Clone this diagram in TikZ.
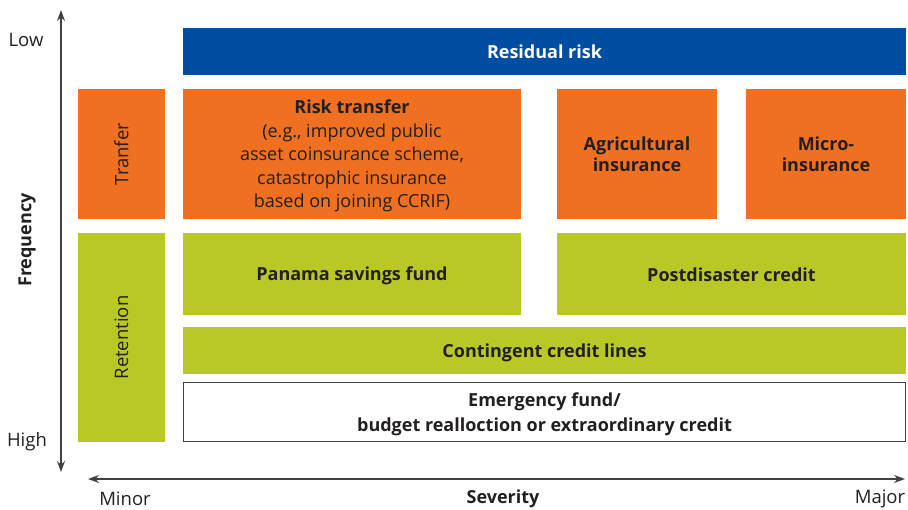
\documentclass[tikz,border=0pt]{standalone}
\usepackage{fontspec}
\setmainfont{Open Sans}
\usetikzlibrary{arrows.meta}
\definecolor{ablue}{HTML}{004EA2}
\definecolor{aorange}{HTML}{F07022}
\definecolor{agreen}{HTML}{BAC826}
\definecolor{atext}{HTML}{231F20}
\tikzset{
  box/.style={inner sep=0pt, align=center, text=atext, font=\fontsize{18}{21}\selectfont\bfseries},
  lab/.style={inner sep=0pt, text=atext, font=\fontsize{18.5}{20}\selectfont},
  axis/.style={draw=atext!85, line width=1.3pt}
}
\begin{document}
\begin{tikzpicture}[x=1pt,y=-1pt]
\useasboundingbox (0,0) rectangle (908,510);
% boxes
\fill[ablue] (183,28) rectangle (906,75);
\node[box, text=white] (resid) at (544.5,51.5) {Residual risk};
\fill[aorange] (78,89) rectangle (165,219);
\node[lab, rotate=90] (tranf) at (121.5,154) {Tranfer};
\fill[aorange] (183,89) rectangle (521,219);
\node[box, font=\fontsize{18}{23.5}\selectfont\bfseries] (rt) at (352,156) {Risk transfer\\\mdseries(e.g., improved public\\\mdseries asset coinsurance scheme,\\\mdseries catastrophic insurance\\\mdseries based on joining CCRIF)};
\fill[aorange] (557,89) rectangle (717,219);
\node[box] (agri) at (637,154) {Agricultural\\insurance};
\fill[aorange] (746,89) rectangle (906,219);
\node[box] (micro) at (826,154) {Micro-\\insurance};
\fill[agreen] (78,233) rectangle (165,442);
\node[lab, rotate=90] (ret) at (121.5,337.5) {Retention};
\fill[agreen] (183,233) rectangle (521,315);
\node[box] (pan) at (352,276) {Panama savings fund};
\fill[agreen] (557,233) rectangle (906,315);
\node[box] (post) at (731.5,275) {Postdisaster credit};
\fill[agreen] (183,327) rectangle (906,374);
\node[box] (cont) at (544.5,352.5) {Contingent credit lines};
\draw[atext!85, line width=1.2pt] (183.5,382.5) rectangle (905.5,441.5);
\node[box, font=\fontsize{18}{25}\selectfont\bfseries] (emer) at (544.5,414.5) {Emergency fund/\\budget realloction or extraordinary credit};
% axes
\coordinate (vtop) at (61,10);
\coordinate (vbot) at (61,472);
\draw[axis, {Stealth[length=11pt,width=8pt]}-{Stealth[length=11pt,width=8pt]}] (vbot) -- (vtop);
\coordinate (hl) at (88,479);
\coordinate (hr) at (905,479);
\draw[axis, {Stealth[length=11pt,width=8pt]}-{Stealth[length=11pt,width=8pt]}] (hl) -- (hr);
% labels
\node[lab] (low) at (26,40) {Low};
\node[lab] (high) at (27,442) {High};
\node[lab] (minor) at (125,499) {Minor};
\node[lab] (major) at (880,499) {Major};
\node[box] (sev) at (503,499) {Severity};
\node[box, rotate=90] (freq) at (27,240) {Frequency};
\end{tikzpicture}
\end{document}
